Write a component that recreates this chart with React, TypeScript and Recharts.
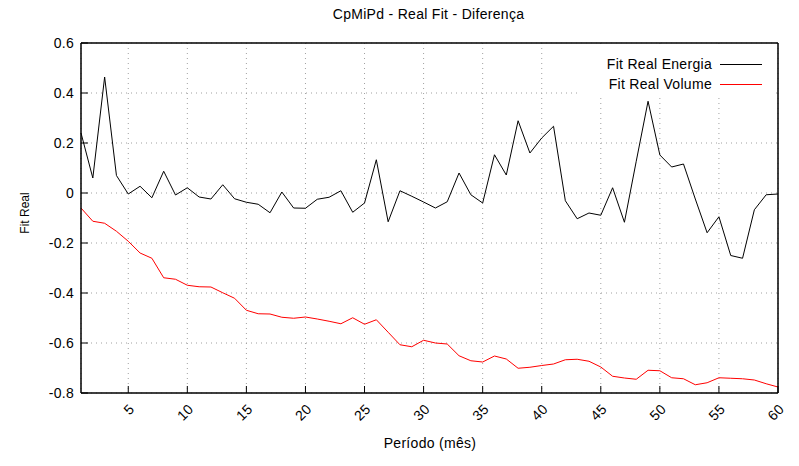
import { CartesianGrid, Line, LineChart, XAxis, YAxis } from 'recharts';

// Fit real difference per month.
const months = [
  1, 2, 3, 4, 5, 6, 7, 8, 9, 10, 11, 12, 13, 14, 15, 16, 17, 18, 19, 20,
  21, 22, 23, 24, 25, 26, 27, 28, 29, 30, 31, 32, 33, 34, 35, 36, 37, 38, 39, 40,
  41, 42, 43, 44, 45, 46, 47, 48, 49, 50, 51, 52, 53, 54, 55, 56, 57, 58, 59, 60,
];

const energia = [
  0.24, 0.06, 0.464, 0.07, -0.004, 0.027, -0.019, 0.087, -0.008, 0.021,
  -0.016, -0.024, 0.033, -0.023, -0.037, -0.045, -0.079, 0.004, -0.06, -0.061,
  -0.025, -0.017, 0.009, -0.077, -0.04, 0.133, -0.115, 0.009, -0.013, -0.036,
  -0.06, -0.035, 0.08, -0.007, -0.04, 0.153, 0.072, 0.289, 0.16, 0.22,
  0.267, -0.031, -0.103, -0.08, -0.089, 0.021, -0.117, 0.127, 0.367, 0.152,
  0.104, 0.116, -0.024, -0.159, -0.095, -0.25, -0.261, -0.067, -0.007, -0.004,
];

const volume = [
  -0.06, -0.113, -0.121, -0.153, -0.193, -0.24, -0.261, -0.339, -0.345, -0.369,
  -0.375, -0.376, -0.399, -0.421, -0.469, -0.483, -0.484, -0.497, -0.501, -0.496,
  -0.504, -0.513, -0.523, -0.499, -0.525, -0.507, -0.557, -0.607, -0.615, -0.589,
  -0.6, -0.604, -0.651, -0.671, -0.676, -0.652, -0.664, -0.701, -0.697, -0.69,
  -0.684, -0.667, -0.665, -0.673, -0.696, -0.733, -0.74, -0.745, -0.709, -0.711,
  -0.739, -0.743, -0.767, -0.759, -0.739, -0.741, -0.743, -0.748, -0.763, -0.776,
];

const xTicks = [5, 10, 15, 20, 25, 30, 35, 40, 45, 50, 55, 60];
const yTicks = [-0.8, -0.6, -0.4, -0.2, 0, 0.2, 0.4, 0.6];

// same domains on both axis pairs; red rides the mirrored top/right pair so
// those axes (plot border + inward ticks) get drawn
const series = [
  { key: 'energia', name: 'Fit Real Energia', color: '#000000', xId: 0, yId: 0 },
  { key: 'volume', name: 'Fit Real Volume', color: '#ff0000', xId: 'top', yId: 'right' },
];

const rows = months.map((m, i) => ({ x: m, energia: energia[i], volume: volume[i] }));

const FONT = '"Liberation Sans", Arial, sans-serif';
const IN = -7; // negative tickSize = gnuplot style inward ticks
const axisLine = { strokeWidth: 1.5 };
const labelFont = { fontSize: 14, fontFamily: FONT, fill: '#000', letterSpacing: 0.3 };

export default function App() {
  return (
    <div style={{ position: 'absolute', left: 0, top: 0, width: 799, height: 466, background: '#fff', fontFamily: FONT }}>
      <LineChart width={799} height={466} data={rows} margin={{ top: 23, right: 1, bottom: 0, left: 0 }}>
        <CartesianGrid stroke="#a0a0a0" strokeDasharray="1 4" />
        <XAxis
          dataKey="x"
          type="number"
          domain={[1, 60]}
          ticks={xTicks}
          interval={0}
          height={73}
          stroke="#000"
          tickSize={IN}
          tickMargin={17}
          tick={{ ...labelFont, angle: -45, textAnchor: 'end', verticalAnchor: 'middle' }}
          axisLine={axisLine}
        />
        <XAxis
          xAxisId="top"
          orientation="top"
          dataKey="x"
          type="number"
          domain={[1, 60]}
          ticks={xTicks}
          interval={0}
          height={20}
          stroke="#000"
          tickSize={IN}
          tick={false}
          axisLine={axisLine}
        />
        <YAxis
          type="number"
          domain={[-0.8, 0.6]}
          ticks={yTicks}
          interval={0}
          width={81}
          stroke="#000"
          tickSize={IN}
          tickMargin={14}
          tick={labelFont}
          axisLine={axisLine}
        />
        <YAxis
          yAxisId="right"
          orientation="right"
          type="number"
          domain={[-0.8, 0.6]}
          ticks={yTicks}
          interval={0}
          width={20}
          stroke="#000"
          tickSize={IN}
          tick={false}
          axisLine={axisLine}
        />
        {series.map((s) => (
          <Line
            key={s.key}
            xAxisId={s.xId}
            yAxisId={s.yId}
            type="linear"
            dataKey={s.key}
            name={s.name}
            stroke={s.color}
            strokeWidth={1}
            dot={false}
            isAnimationActive={false}
          />
        ))}
      </LineChart>

      {/* legend box, white so it hides the grid like gnuplot's key */}
      <div style={{ position: 'absolute', left: 580, top: 44, width: 196, height: 51, background: '#fff' }}>
        {series.map((s, i) => (
          <div key={s.key} style={{ position: 'absolute', left: 0, top: 9.5 + i * 20.5, width: 196, height: 20 }}>
            <span
              style={{
                position: 'absolute',
                left: 0,
                width: 132,
                textAlign: 'right',
                fontSize: 14,
                lineHeight: '20px',
                letterSpacing: 0.3,
                color: '#000',
              }}
            >
              {s.name}
            </span>
            <div style={{ position: 'absolute', left: 140, top: 10, width: 42, borderTop: `1px solid ${s.color}` }} />
          </div>
        ))}
      </div>

      <div
        style={{
          position: 'absolute',
          left: 0,
          top: 5.6,
          width: 857,
          textAlign: 'center',
          fontSize: 14,
          lineHeight: '16px',
          letterSpacing: 0.3,
          color: '#000',
        }}
      >
        CpMiPd - Real Fit - Diferença
      </div>
      <div
        style={{
          position: 'absolute',
          left: 0,
          top: 435,
          width: 860,
          textAlign: 'center',
          fontSize: 14,
          lineHeight: '16px',
          letterSpacing: 0.3,
          color: '#000',
        }}
      >
        Período (mês)
      </div>
      <div
        style={{
          position: 'absolute',
          left: -25,
          top: 205.5,
          width: 100,
          height: 14,
          textAlign: 'center',
          fontSize: 12,
          lineHeight: '14px',
          color: '#000',
          transform: 'rotate(-90deg)',
        }}
      >
        Fit Real
      </div>
    </div>
  );
}
